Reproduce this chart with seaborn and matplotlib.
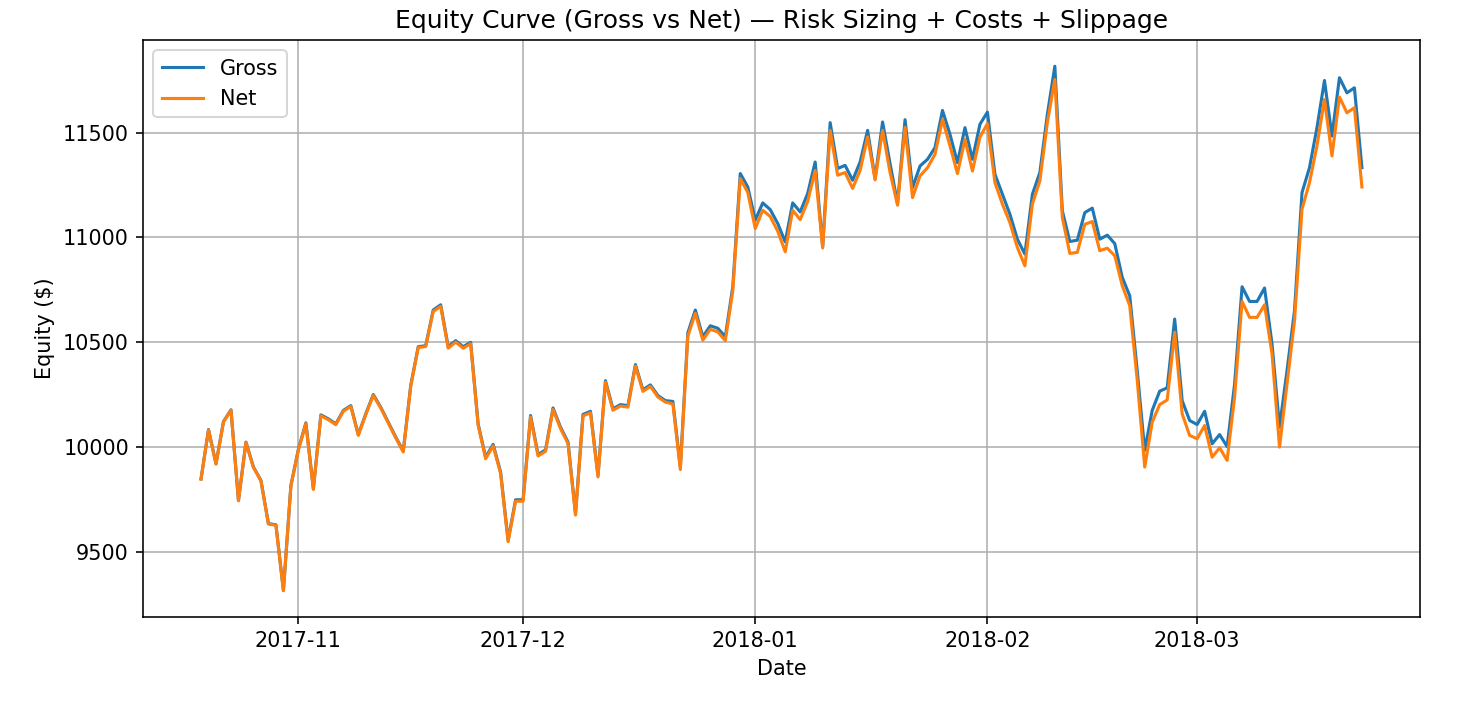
import pandas as pd
import matplotlib
matplotlib.use("Agg")
import matplotlib.pyplot as plt
import seaborn as sns

# daily equity, 2017-10-19 .. 2018-03-23
start_date = "2017-10-19"
gross = [9849, 10084, 9921, 10122, 10178, 9746, 10024, 9905, 9841, 9635,
         9630, 9317, 9817, 9990, 10116, 9802, 10154, 10135, 10111, 10175,
         10198, 10060, 10159, 10251, 10190, 10119, 10048, 9981, 10294, 10479,
         10484, 10654, 10679, 10479, 10508, 10479, 10500, 10111, 9952, 10013,
         9881, 9556, 9749, 9749, 10151, 9965, 9987, 10187, 10095, 10024,
         9683, 10156, 10171, 9865, 10317, 10183, 10203, 10198, 10394, 10273,
         10297, 10246, 10222, 10218, 9905, 10546, 10654, 10527, 10579, 10567,
         10527, 10765, 11305, 11241, 11083, 11165, 11133, 11067, 10979, 11165,
         11122, 11210, 11360, 10956, 11548, 11329, 11344, 11273, 11360, 11511,
         11281, 11551, 11352, 11162, 11562, 11238, 11341, 11373, 11429, 11606,
         11492, 11357, 11524, 11373, 11540, 11598, 11302, 11206, 11111, 10992,
         10921, 11206, 11310, 11587, 11817, 11127, 10981, 10987, 11119, 11140,
         10992, 11011, 10971, 10810, 10722, 10365, 9985, 10175, 10267, 10283,
         10611, 10222, 10127, 10108, 10171, 10016, 10060, 10003, 10300, 10765,
         10695, 10695, 10759, 10492, 10095, 10365, 10651, 11214, 11333, 11524,
         11749, 11484, 11762, 11690, 11714, 11333]
net = [9847, 10082, 9919, 10120, 10176, 9744, 10022, 9903, 9839, 9633,
       9628, 9315, 9815, 9986, 10112, 9798, 10150, 10131, 10107, 10171,
       10194, 10056, 10155, 10247, 10186, 10115, 10044, 9977, 10290, 10475,
       10480, 10647, 10672, 10472, 10501, 10472, 10493, 10104, 9945, 10006,
       9874, 9549, 9742, 9742, 10144, 9958, 9980, 10180, 10088, 10017,
       9676, 10149, 10164, 9858, 10310, 10176, 10196, 10191, 10387, 10266,
       10290, 10239, 10215, 10206, 9893, 10530, 10638, 10510, 10562, 10550,
       10508, 10745, 11281, 11215, 11043, 11130, 11100, 11030, 10932, 11130,
       11085, 11172, 11320, 10950, 11511, 11297, 11310, 11234, 11320, 11480,
       11275, 11511, 11310, 11154, 11525, 11190, 11294, 11333, 11397, 11563,
       11437, 11305, 11468, 11317, 11479, 11543, 11262, 11159, 11071, 10952,
       10865, 11159, 11270, 11548, 11754, 11095, 10924, 10929, 11063, 11076,
       10937, 10949, 10913, 10770, 10675, 10320, 9905, 10119, 10203, 10225,
       10548, 10159, 10056, 10040, 10103, 9952, 9997, 9937, 10240, 10695,
       10619, 10619, 10679, 10444, 10000, 10302, 10603, 11135, 11262, 11437,
       11659, 11389, 11670, 11595, 11619, 11241]

df = pd.DataFrame({"Gross": gross, "Net": net},
                  index=pd.date_range(start_date, periods=len(gross), freq="D"))
df.index.name = "Date"

plt.rcParams["font.size"] = 10.4

fig, ax = plt.subplots(figsize=(1471 / 144, 704 / 144), dpi=144)
fig.subplots_adjust(left=0.0972, right=0.9653, top=0.9432, bottom=0.1236)

sns.lineplot(x=df.index, y=df["Gross"], ax=ax, label="Gross", color="#1f77b4", linewidth=1.55)
sns.lineplot(x=df.index, y=df["Net"], ax=ax, label="Net", color="#ff7f0e", linewidth=1.55)

ax.set_title("Equity Curve (Gross vs Net) — Risk Sizing + Costs + Slippage")
ax.set_xlabel("Date")
ax.set_ylabel("Equity ($)")
ax.grid(True)
ax.legend(loc="upper left")

fig.savefig("out.png", dpi=144)
